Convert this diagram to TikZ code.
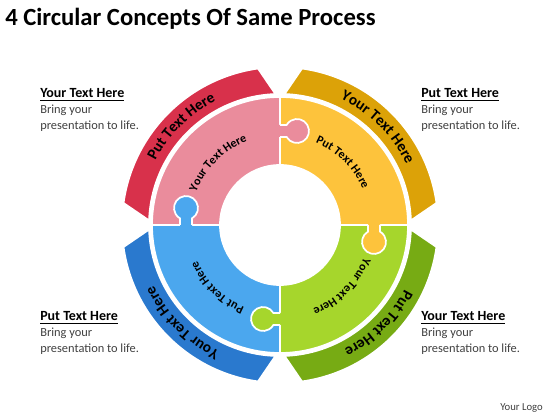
\documentclass[tikz,border=0pt]{standalone}
\usepackage{fontspec}
\setmainfont{Carlito}
\usetikzlibrary{decorations.text}
\definecolor{redband}{HTML}{D8314B}
\definecolor{redring}{HTML}{EA8C9C}
\definecolor{yellowband}{HTML}{DCA208}
\definecolor{yellowring}{HTML}{FDC33C}
\definecolor{greenband}{HTML}{77AB14}
\definecolor{greenring}{HTML}{A6D62C}
\definecolor{blueband}{HTML}{2A79CE}
\definecolor{bluering}{HTML}{4BA7EE}
\definecolor{bodygray}{HTML}{404040}
\tikzset{
	piece/.style={fill=#1,draw=white,line width=1.3},
	seamline/.style={draw=white,line width=1.3},
	sidehead/.style={anchor=base west,inner sep=0,font=\fontsize{10.5}{12}\selectfont\bfseries},
	sidebody/.style={anchor=base west,inner sep=0,text=bodygray,font=\fontsize{9.3}{11}\selectfont},
	bandtext/.style={decorate,decoration={text along path,text align=center,text={|\fontsize{11.5}{13}\selectfont\bfseries|#1}}},
	ringtext/.style={decorate,decoration={text along path,text align=center,text={|\fontsize{9}{11}\selectfont\bfseries|#1}}}
}
\begin{document}
\begin{tikzpicture}[x=0.75pt,y=0.75pt]
		\def\ri{60}
		\def\ro{128}
		\def\bi{131}
		\def\bo{158}
		\def\rt{90}
		\def\bt{140}
		%
		\useasboundingbox (0,0) rectangle (560,420);
		\node[anchor=base west,inner sep=0,font=\fontsize{18.5}{22}\selectfont\bfseries] (title) at (5,394) {4 Circular Concepts Of Same Process};
		%
		\begin{scope}[shift={(280,195)}]
		% puzzle ring
		\path[piece=redring] (90:\ri) -- (90:\ro) arc[start angle=90,end angle=180,radius=\ro] -- (180:\ri) arc[start angle=180,end angle=90,radius=\ri] -- cycle;
		\path[piece=yellowring] (0:\ri) -- (0:\ro) arc[start angle=0,end angle=90,radius=\ro] -- (90:\ri) arc[start angle=90,end angle=0,radius=\ri] -- cycle;
		\path[piece=greenring] (270:\ri) -- (270:\ro) arc[start angle=270,end angle=360,radius=\ro] -- (0:\ri) arc[start angle=360,end angle=270,radius=\ri] -- cycle;
		\path[piece=bluering] (180:\ri) -- (180:\ro) arc[start angle=180,end angle=270,radius=\ro] -- (270:\ri) arc[start angle=270,end angle=180,radius=\ri] -- cycle;
		%
		% knobs
		\begin{scope}[rotate=90]
			\fill[redring] (88,2) -- (88,-6.6) arc[start angle=120,end angle=420,radius=12] -- (100,2) -- cycle;
			\draw[seamline] (88,0) -- (88,-6.6) arc[start angle=120,end angle=420,radius=12] -- (100,0);
		\end{scope}
		\begin{scope}[rotate=0]
			\fill[yellowring] (88,2) -- (88,-6.6) arc[start angle=120,end angle=420,radius=12] -- (100,2) -- cycle;
			\draw[seamline] (88,0) -- (88,-6.6) arc[start angle=120,end angle=420,radius=12] -- (100,0);
		\end{scope}
		\begin{scope}[rotate=270]
			\fill[greenring] (88,2) -- (88,-6.6) arc[start angle=120,end angle=420,radius=12] -- (100,2) -- cycle;
			\draw[seamline] (88,0) -- (88,-6.6) arc[start angle=120,end angle=420,radius=12] -- (100,0);
		\end{scope}
		\begin{scope}[rotate=180]
			\fill[bluering] (88,2) -- (88,-6.6) arc[start angle=120,end angle=420,radius=12] -- (100,2) -- cycle;
			\draw[seamline] (88,0) -- (88,-6.6) arc[start angle=120,end angle=420,radius=12] -- (100,0);
		\end{scope}
		%
		% outer bands
		\path[piece=redband] (92:\bi) -- (98:\bo) arc[start angle=98,end angle=172,radius=\bo] -- (178:\bi) arc[start angle=178,end angle=92,radius=\bi] -- cycle;
		\path[piece=yellowband] (2:\bi) -- (8:\bo) arc[start angle=8,end angle=82,radius=\bo] -- (88:\bi) arc[start angle=88,end angle=2,radius=\bi] -- cycle;
		\path[piece=greenband] (272:\bi) -- (278:\bo) arc[start angle=278,end angle=352,radius=\bo] -- (358:\bi) arc[start angle=358,end angle=272,radius=\bi] -- cycle;
		\path[piece=blueband] (182:\bi) -- (188:\bo) arc[start angle=188,end angle=262,radius=\bo] -- (268:\bi) arc[start angle=268,end angle=182,radius=\bi] -- cycle;
		%
		% texts on the arcs
		\path[bandtext={Put Text Here}] (175:\bt) arc[start angle=175,end angle=95,radius=\bt];
		\path[bandtext={Your Text Here}] (85:\bt) arc[start angle=85,end angle=5,radius=\bt];
		\path[bandtext={Put Text Here}] (355:\bt) arc[start angle=355,end angle=275,radius=\bt];
		\path[bandtext={Your Text Here}] (265:\bt) arc[start angle=265,end angle=185,radius=\bt];
		%
		\path[ringtext={Your Text Here}] (175:\rt) arc[start angle=175,end angle=95,radius=\rt];
		\path[ringtext={Put Text Here}] (85:\rt) arc[start angle=85,end angle=5,radius=\rt];
		\path[ringtext={Your Text Here}] (355:\rt) arc[start angle=355,end angle=275,radius=\rt];
		\path[ringtext={Put Text Here}] (265:\rt) arc[start angle=265,end angle=185,radius=\rt];
		\end{scope}
		%
		% side texts
		\node[sidehead] (tlhead) at (40,322) {\underline{Your Text Here}};
		\node[sidebody] (tlbring) at (40,306) {Bring your};
		\node[sidebody] (tllife) at (40,290) {presentation to life.};
		%
		\node[sidehead] (trhead) at (421,322) {\underline{Put Text Here}};
		\node[sidebody] (trbring) at (421,306) {Bring your};
		\node[sidebody] (trlife) at (421,290) {presentation to life.};
		%
		\node[sidehead] (blhead) at (40,99) {\underline{Put Text Here}};
		\node[sidebody] (blbring) at (40,83) {Bring your};
		\node[sidebody] (bllife) at (40,67) {presentation to life.};
		%
		\node[sidehead] (brhead) at (421,99) {\underline{Your Text Here}};
		\node[sidebody] (brbring) at (421,83) {Bring your};
		\node[sidebody] (brlife) at (421,67) {presentation to life.};
		%
		\node[sidebody,font=\fontsize{8}{10}\selectfont] (logo) at (500,9) {Your Logo};
\end{tikzpicture}
\end{document}
